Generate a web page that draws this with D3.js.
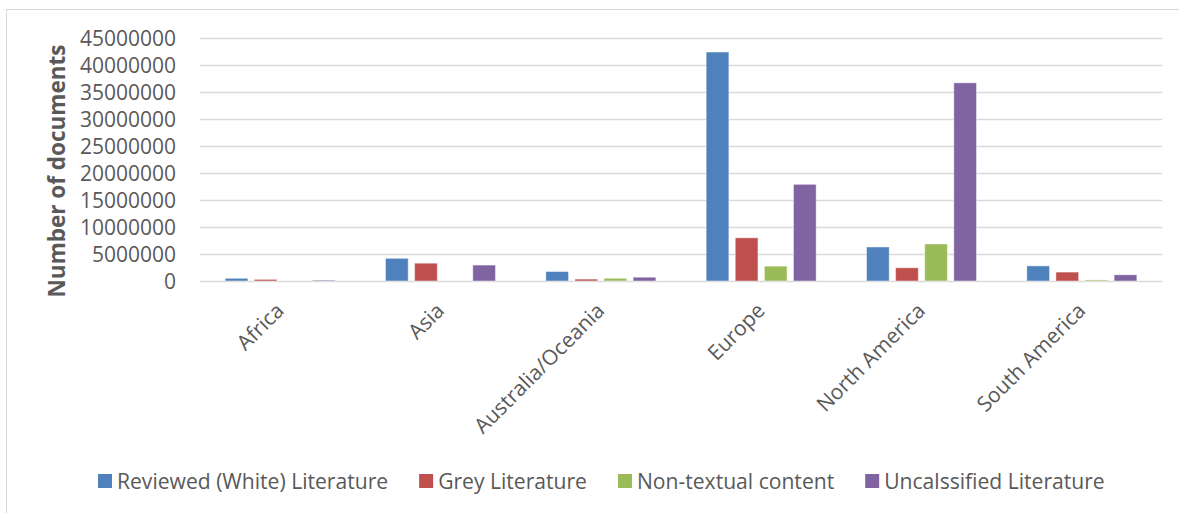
<!DOCTYPE html>
<html>
<head>
<meta charset="utf-8">
<script src="https://cdn.jsdelivr.net/npm/d3@7"></script>
<style>
  html, body { margin: 0; padding: 0; background: #fff; }
  svg { display: block; font-family: "Open Sans", "Noto Sans", sans-serif; }
</style>
</head>
<body>
<svg id="chart" width="1179" height="513"></svg>
<script>
// Regions on the category axis
const regions = ["Africa", "Asia", "Australia/Oceania", "Europe", "North America", "South America"];

// Document counts per series, one value per region
const reviewed     = [500000, 4200000, 1750000, 42400000, 6300000, 2800000];
const grey         = [300000, 3300000, 350000, 8000000, 2450000, 1650000];
const nonTextual   = [0, 0, 500000, 2750000, 6850000, 200000];
const unclassified = [150000, 2950000, 700000, 17900000, 36700000, 1150000];

const seriesNames = ["Reviewed (White) Literature", "Grey Literature", "Non-textual content", "Uncalssified Literature"];
const seriesColors = ["#4F81BD", "#C0504D", "#9BBB59", "#8064A2"];
const seriesValues = [reviewed, grey, nonTextual, unclassified];

// Value axis ticks
const yTicks = [0, 5000000, 10000000, 15000000, 20000000, 25000000, 30000000, 35000000, 40000000, 45000000];

const svg = d3.select("#chart");
const W = 1179, H = 513;

svg.append("rect").attr("width", W).attr("height", H).attr("fill", "#fff");
// chart frame
svg.append("rect")
  .attr("x", 6.5).attr("y", 9.5)
  .attr("width", W + 10).attr("height", H + 10)
  .attr("fill", "none").attr("stroke", "#d9d9d9").attr("stroke-width", 1);

const plot = { left: 200, right: 1162, top: 38, bottom: 281 };

const y = d3.scaleLinear().domain([0, 45000000]).range([plot.bottom, plot.top]);
const x0 = d3.scaleBand().domain(regions).range([plot.left, plot.right]).padding(0);
const x1 = d3.scaleBand().domain(d3.range(seriesNames.length))
  .range([-58.2, 58.2]).paddingInner(0.22).paddingOuter(0.11);

// gridlines and value labels
const yAxis = d3.axisLeft(y).tickValues(yTicks).tickSize(0).tickPadding(0)
  .tickFormat(d => String(d));
const gy = svg.append("g").attr("transform", `translate(${plot.left},0)`).call(yAxis);
gy.select(".domain").remove();
gy.selectAll(".tick line").remove();
gy.selectAll(".tick").append("line")
  .attr("x1", 0).attr("x2", plot.right - plot.left)
  .attr("stroke", "#d9d9d9").attr("stroke-width", 1.3);
gy.selectAll(".tick text")
  .attr("x", -24).attr("dy", "0.36em")
  .attr("fill", "#595959").style("font-size", "21px")
  .style("font-family", "'Open Sans', sans-serif");

// bars
const rows = regions.map((r, i) => ({ region: r, vals: seriesValues.map(s => s[i]) }));
const groups = svg.append("g").selectAll("g").data(rows).join("g")
  .attr("transform", d => `translate(${x0(d.region) + x0.bandwidth() / 2},0)`);
groups.selectAll("rect").data(d => d.vals.map((v, k) => ({ v, k }))).join("rect")
  .attr("x", d => x1(d.k))
  .attr("width", x1.bandwidth())
  .attr("y", d => y(d.v))
  .attr("height", d => y(0) - y(d.v))
  .attr("fill", d => seriesColors[d.k])
  .attr("stroke", "rgba(255,255,255,0.45)")
  .attr("stroke-width", 1);

// category labels
const xAxis = d3.axisBottom(x0).tickSize(0).tickPadding(0);
const gx = svg.append("g").attr("transform", `translate(0,${plot.bottom})`).call(xAxis);
gx.select(".domain").remove();
gx.selectAll(".tick text")
  .attr("y", 0).attr("dy", 0)
  .attr("text-anchor", "end")
  .attr("transform", "translate(5,31) rotate(-45)")
  .attr("fill", "#595959").style("font-size", "21px")
  .style("font-family", "'Open Sans', sans-serif");

// axis title
svg.append("text")
  .attr("transform", `translate(65,171) rotate(-90)`)
  .attr("text-anchor", "middle")
  .attr("fill", "#595959")
  .style("font-size", "22.5px").style("font-weight", "bold")
  .text("Number of documents");

// legend
const legend = svg.append("g").attr("transform", "translate(98,481)");
let lx = 0;
seriesNames.forEach((name, k) => {
  const g = legend.append("g").attr("transform", `translate(${lx},0)`);
  g.append("rect").attr("x", 0).attr("y", -7).attr("width", 14).attr("height", 14)
    .attr("fill", seriesColors[k]);
  const t = g.append("text").attr("x", 19).attr("dy", "0.36em")
    .attr("fill", "#595959").style("font-size", "21.1px")
    .text(name);
  lx += 19 + t.node().getComputedTextLength() + 31;
});
</script>
</body>
</html>
